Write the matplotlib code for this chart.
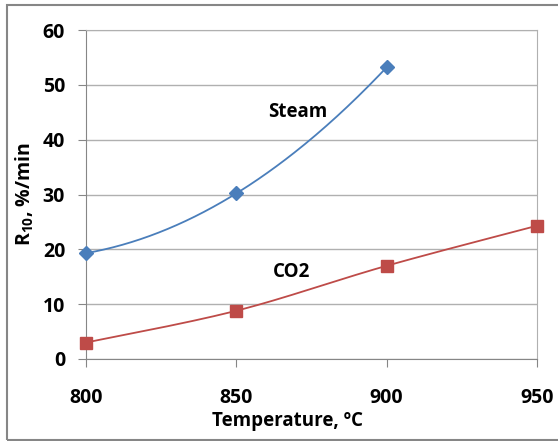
import numpy as np
import matplotlib.pyplot as plt
from matplotlib.patches import Rectangle

# data
temp_steam = [800, 850, 900]
r10_steam = [19.3, 30.2, 53.2]
temp_co2 = [800, 850, 900, 950]
r10_co2 = [3.0, 8.8, 17.0, 24.3]

x_ticks = [800, 850, 900, 950]
y_ticks = [0, 10, 20, 30, 40, 50, 60]


def smooth_bezier(x, y, n=50):
    # Excel-style smoothed line: bezier segments, tangents from neighbours
    x = np.asarray(x, float)
    y = np.asarray(y, float)
    px = np.concatenate([[x[0]], x, [x[-1]]])
    py = np.concatenate([[y[0]], y, [y[-1]]])
    t = np.linspace(0, 1, n)
    xs, ys = [], []
    for i in range(1, len(px) - 2):
        for p, out in ((px, xs), (py, ys)):
            c1 = p[i] + (p[i + 1] - p[i - 1]) / 6
            c2 = p[i + 1] - (p[i + 2] - p[i]) / 6
            out.extend((1 - t) ** 3 * p[i] + 3 * (1 - t) ** 2 * t * c1
                       + 3 * (1 - t) * t ** 2 * c2 + t ** 3 * p[i + 1])
    return xs, ys


def smooth_poly(x, y, n=200):
    # curve through the three points
    c = np.polyfit(x, y, len(x) - 1)
    xs = np.linspace(x[0], x[-1], n)
    return xs, np.polyval(c, xs)


plt.rcParams['font.family'] = ['Open Sans', 'DejaVu Sans']
plt.rcParams['font.weight'] = 'bold'
plt.rcParams['mathtext.fontset'] = 'custom'
plt.rcParams['mathtext.rm'] = 'Open Sans:bold'
plt.rcParams['mathtext.bf'] = 'Open Sans:bold'

fig = plt.figure(figsize=(5.58, 4.41), dpi=100)
ax = fig.add_axes([86 / 558, 1 - 359 / 441, (537 - 86) / 558, (359 - 30) / 441])

blue = '#4A7EBB'
red = '#BE4B48'

sx, sy = smooth_poly(temp_steam, r10_steam)
ax.plot(sx, sy, color=blue, lw=1.3, zorder=3)
ax.plot(temp_steam, r10_steam, 'D', color=blue, ms=7.5, zorder=4, clip_on=False)

cx, cy = smooth_bezier(temp_co2, r10_co2)
ax.plot(cx, cy, color=red, lw=1.3, zorder=3)
ax.plot(temp_co2, r10_co2, 's', color=red, ms=9, zorder=4, clip_on=False)

ax.set_xlim(800, 950)
ax.set_ylim(0, 60)
ax.set_xticks(x_ticks)
ax.set_yticks(y_ticks)
ax.yaxis.grid(True, color='#B0B0B0', lw=1)
ax.set_axisbelow(True)

for s in ['left', 'bottom', 'right', 'top']:
    ax.spines[s].set_color('#B0B0B0')
ax.spines['left'].set_color('#868686')
ax.spines['bottom'].set_color('#868686')

ax.tick_params(axis='both', direction='out', length=6, color='#868686',
               labelsize=14)
ax.tick_params(axis='x', pad=15)
ax.tick_params(axis='y', pad=9)

fig.text(287 / 558, 1 - 421 / 441, 'Temperature, ºC', fontsize=13.5,
         fontweight='bold', ha='center', va='center')
fig.text(25 / 558, 1 - 194 / 441, 'R$_{10}$, %/min', fontsize=14,
         fontweight='bold', ha='center', va='center', rotation=90)

ax.text(860.5, 45, 'Steam', fontsize=13.5, fontweight='bold', va='center')
ax.text(862, 15.9, 'CO2', fontsize=13.5, fontweight='bold', va='center')

fig.patches.append(Rectangle((7 / 558, 1 / 441), 1.0, 435 / 441,
                             transform=fig.transFigure, fill=False,
                             edgecolor='#868686', lw=1.5))

plt.savefig('out.png', dpi=100)
